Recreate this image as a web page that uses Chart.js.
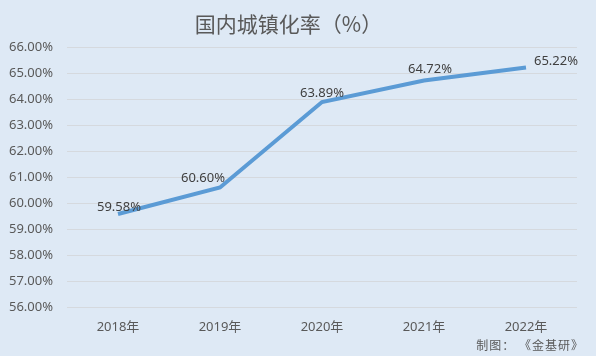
<!DOCTYPE html>
<html><head><meta charset="utf-8">
<script src="https://cdn.jsdelivr.net/npm/chart.js@4"></script>
<style>html,body{margin:0;padding:0;background:#DEE9F5;}#wrap{width:596px;height:356px;position:relative;}</style>
</head><body><div id="wrap"><canvas id="c"></canvas></div>
<script>
const categories = ['2018年','2019年','2020年','2021年','2022年'];
const urbanRate = [59.58, 60.60, 63.89, 64.72, 65.22];
const titleText = '国内城镇化率（%）';
const sourceText = '制图：《金基研》';
// label placement style per point: [dx, dy, align]
const labelPlace = [[1,-7,'center'],[-17,-9,'center'],[0,-9,'center'],[6,-11,'center'],[8,-6,'left']];

const font = "'Noto Sans','Noto Sans CJK SC',sans-serif";
const cjk = "'Noto Sans CJK SC',sans-serif";
const labelPlugin = {
  id:'lbl',
  afterDatasetsDraw(chart){
    const ctx = chart.ctx; const meta = chart.getDatasetMeta(0);
    ctx.save(); ctx.font = "13px " + font; ctx.fillStyle = '#404040'; ctx.textBaseline='middle';
    meta.data.forEach((p,i)=>{
      const pl = labelPlace[i]; ctx.textAlign = pl[2];
      ctx.fillText(urbanRate[i].toFixed(2)+'%', p.x+pl[0], p.y+pl[1]);
    });
    ctx.font = "12px " + cjk; ctx.fillStyle = '#595959'; ctx.textAlign='right';
    ctx.letterSpacing = '1px';
    ctx.fillText(sourceText.replace('：','： '), 584, 345);
    ctx.restore();
  }
};
new Chart(document.getElementById('c'),{
  type:'line',
  data:{labels:categories,datasets:[{data:urbanRate,borderColor:'#5B9BD5',borderWidth:4,pointRadius:0,tension:0,fill:false}]},
  options:{
    responsive:true,maintainAspectRatio:false,animation:false,
    layout:{padding:{left:0,right:19,top:0,bottom:19}},
    plugins:{
      legend:{display:false},tooltip:{enabled:false},
      title:{display:true,text:titleText,color:'#595959',font:{family:cjk,size:21,weight:'normal'},padding:{top:11,bottom:11}}
    },
    scales:{
      x:{offset:true,grid:{display:false},border:{display:false},ticks:{color:'#595959',font:{family:font,size:13},padding:4},
         afterFit(s){s.height=30;}},
      y:{min:56,max:66,ticks:{stepSize:1,color:'#595959',font:{family:font,size:13},padding:14,callback:v=>v.toFixed(2)+'%'},
         grid:{color:'#D5D9DE',lineWidth:1,drawTicks:false},border:{display:false},
         afterFit(s){s.width=67;}}
    }
  },
  plugins:[labelPlugin]
});
</script></body></html>
